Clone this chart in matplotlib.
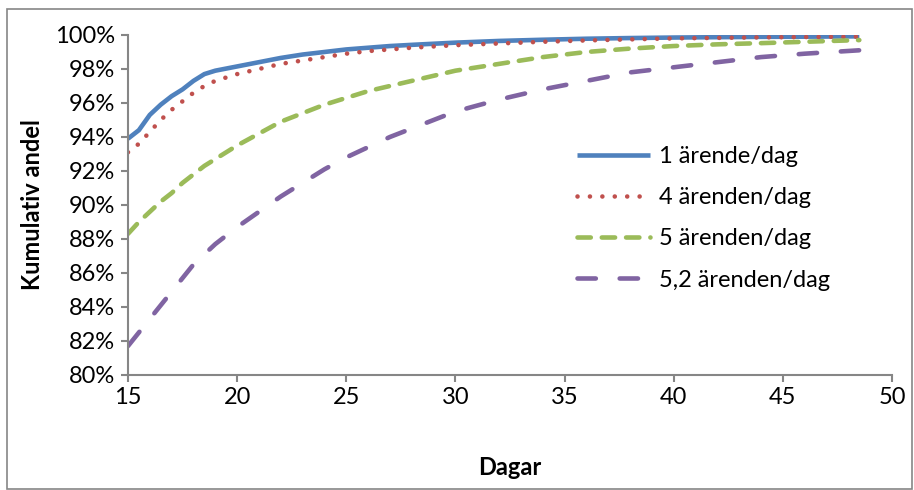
import matplotlib
matplotlib.use("Agg")
import matplotlib.pyplot as plt
from matplotlib.patches import Rectangle

plt.rcParams["font.family"] = ["Lato", "DejaVu Sans"]

dagar = [15, 15.5, 16, 16.5, 17, 17.5, 18, 18.5, 19, 20, 21, 22, 23, 24, 25,
         26, 27, 28, 30, 32, 34, 36, 38, 40, 42, 44, 46, 48.5]

serie_1 = [93.9, 94.4, 95.3, 95.9, 96.4, 96.8, 97.3, 97.7, 97.9, 98.15, 98.4,
           98.65, 98.85, 99.0, 99.15, 99.25, 99.35, 99.42, 99.55, 99.65, 99.72,
           99.78, 99.82, 99.85, 99.87, 99.89, 99.9, 99.92]
serie_4 = [93.1, 93.6, 94.3, 95.0, 95.6, 96.1, 96.6, 97.0, 97.3, 97.7, 98.0,
           98.3, 98.5, 98.7, 98.9, 99.05, 99.15, 99.25, 99.4, 99.5, 99.6, 99.68,
           99.74, 99.8, 99.83, 99.86, 99.88, 99.9]
serie_5 = [88.3, 89.0, 89.6, 90.2, 90.7, 91.3, 91.8, 92.3, 92.7, 93.5, 94.2,
           94.9, 95.4, 95.9, 96.3, 96.7, 97.0, 97.3, 97.9, 98.3, 98.7, 99.0,
           99.2, 99.35, 99.45, 99.52, 99.6, 99.7]
serie_52 = [81.7, 82.5, 83.3, 84.1, 84.9, 85.7, 86.5, 87.1, 87.7, 88.7, 89.6,
            90.5, 91.3, 92.1, 92.8, 93.4, 94.0, 94.5, 95.5, 96.2, 96.8, 97.3,
            97.8, 98.1, 98.4, 98.7, 98.9, 99.1]

etiketter = ["1 ärende/dag", "4 ärenden/dag", "5 ärenden/dag", "5,2 ärenden/dag"]

fig = plt.figure(figsize=(9.14, 4.90), dpi=100)
ax = fig.add_axes([0.140, 0.2347, 0.836, 0.6939])

fig.patches.append(Rectangle((0.008, 0.003), 0.99, 0.979, transform=fig.transFigure,
                             fill=False, edgecolor="#868686", linewidth=1.2))

lw = 3.3
ax.plot(dagar, serie_1, color="#4F81BD", lw=lw, solid_capstyle="butt", label=etiketter[0])
ax.plot(dagar, serie_4, color="#C0504D", lw=lw, linestyle=(0, (0.01, 2.7)),
        dash_capstyle="round", label=etiketter[1])
ax.plot(dagar, serie_5, color="#9BBB59", lw=lw, linestyle=(0, (2.9, 2.4)),
        dash_capstyle="round", label=etiketter[2])
ax.plot(dagar, serie_52, color="#8064A2", lw=lw, linestyle=(0, (4.0, 5.2)),
        dash_capstyle="round", label=etiketter[3])

ax.set_xlim(15, 50)
ax.set_ylim(80, 100)
ax.set_xticks(range(15, 51, 5))
ax.set_yticks(range(80, 101, 2))
ax.set_yticklabels([f"{v}%" for v in range(80, 101, 2)])

for s in ["top", "right"]:
    ax.spines[s].set_visible(False)
for s in ["left", "bottom"]:
    ax.spines[s].set_color("#868686")
    ax.spines[s].set_linewidth(1.5)
ax.tick_params(direction="out", length=5, width=1.5, color="#868686",
               labelsize=17, pad=4)

ax.set_xlabel("Dagar", fontsize=17, fontweight="bold", labelpad=34)
ax.set_ylabel("Kumulativ andel", fontsize=17, fontweight="bold", labelpad=8)

ax.legend(loc="upper left", bbox_to_anchor=(0.56, 0.735), frameon=False,
          fontsize=17, handlelength=3.1, handletextpad=0.35, labelspacing=0.85)

fig.savefig("out.png", dpi=100)
